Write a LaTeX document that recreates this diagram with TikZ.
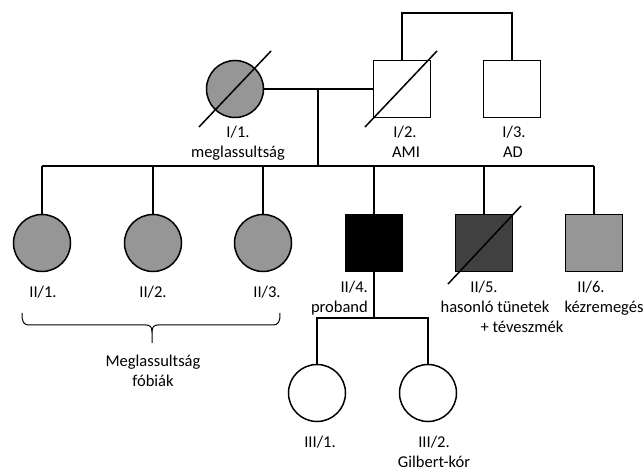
\documentclass[tikz,border=0pt]{standalone}
\usepackage{fontspec}
\setmainfont{Carlito}
\usetikzlibrary{calc}
\begin{document}
\begin{tikzpicture}[x=1pt,y=-1pt,
  ln/.style={line width=1.5pt},
  fem/.style={circle,draw,line width=1.5pt,minimum size=57pt,inner sep=0pt},
  mal/.style={rectangle,draw,line width=1.5pt,minimum size=57pt,inner sep=0pt},
  lbl/.style={anchor=base,inner sep=0pt,font=\fontsize{16.5}{20}\selectfont},
  lblr/.style={lbl,anchor=base east}]
\definecolor{affgray}{RGB}{150,150,150}
\definecolor{darkaff}{RGB}{64,64,64}
\useasboundingbox (0,0) rectangle (643,470);
% generation I
\node[fem,fill=affgray] (i1) at (235,89) {};
\node[mal] (i2) at (402,89) {};
\node[mal] (i3) at (512,89) {};
\draw[ln] ($(i1)+(-36,38)$) -- ($(i1)+(36,-38)$);
\draw[ln] ($(i2)+(-37,38)$) -- ($(i2)+(35,-38)$);
\coordinate (top) at (457,13);
\draw[ln] (i2.north) |- (top) -| (i3.north);
\draw[ln] (i1.east) -- (i2.west);
\coordinate (m1) at (318,89);
\coordinate (s1) at (318,166);
\draw[ln] (m1) -- (s1);
% generation II
\node[fem,fill=affgray] (ii1) at (42,243) {};
\node[fem,fill=affgray] (ii2) at (153,243) {};
\node[fem,fill=affgray] (ii3) at (263,243) {};
\node[mal,fill=black] (ii4) at (374,243) {};
\node[mal,fill=darkaff] (ii5) at (484,243) {};
\node[mal,fill=affgray] (ii6) at (594,243) {};
\draw[ln] ($(ii5)+(-36,41)$) -- ($(ii5)+(37,-37)$);
\coordinate (sl) at (42,166);
\coordinate (sr) at (594,166);
\draw[ln] (sl) -- (sr);
\foreach \n in {ii1,ii2,ii3,ii4,ii5,ii6}{\draw[ln] (\n.north) -- (\n.north |- sl);}
% generation III
\node[fem] (iii1) at (317,393) {};
\node[fem] (iii2) at (428,393) {};
\coordinate (s2) at (374,318);
\draw[ln] (ii4.south) -- (s2);
\draw[ln] (iii1.north) |- (s2) -| (iii2.north);
% brace
\draw[line width=1pt] (22,313) .. controls (22,322) and (23,325) .. (30,325) -- (146,325) .. controls (150,325) and (152,327) .. (152,332) -- (152,343);
\draw[line width=1pt] (152,332) .. controls (152,327) and (154,325) .. (158,325) -- (272,325) .. controls (279,325) and (280,322) .. (280,313);
% labels
\node[lbl] (t1a) at (238,138) {I/1.};
\node[lbl] (t1b) at (238,158) {meglassultság};
\node[lbl] (t2a) at (405,138) {I/2.};
\node[lbl] (t2b) at (406,158) {AMI};
\node[lbl] (t3a) at (514,138) {I/3.};
\node[lbl] (t3b) at (513,158) {AD};
\node[lbl] (u1) at (43,298) {II/1.};
\node[lbl] (u2) at (153,298) {II/2.};
\node[lbl] (u3) at (267,298) {II/3.};
\node[lblr] (u4a) at (368,293) {II/4.};
\node[lblr] (u4b) at (368,313) {proband};
\node[lbl] (u5a) at (484,293) {II/5.};
\node[lbl] (u5b) at (495,313) {hasonló tünetek};
\node[lbl] (u5c) at (522,333) {+ téveszmék};
\node[lbl] (u6a) at (591,293) {II/6.};
\node[lbl] (u6b) at (604,313) {kézremegés};
\node[lbl] (b1) at (153,367) {Meglassultság};
\node[lbl] (b2) at (153,387) {fóbiák};
\node[lbl] (w1) at (320,447) {III/1.};
\node[lbl] (w2a) at (434,447) {III/2.};
\node[lbl] (w2b) at (434,467) {Gilbert-kór};
\end{tikzpicture}
\end{document}
